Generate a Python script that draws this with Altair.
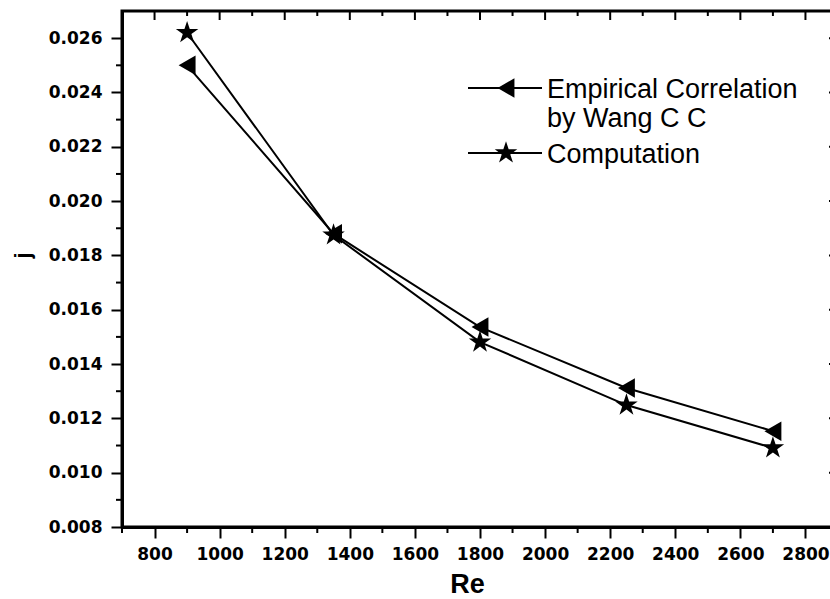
import altair as alt
import pandas as pd

# ---- data ----
re_vals = [900, 1350, 1800, 2250, 2700]
j_empirical = [0.0250, 0.0188, 0.01536, 0.01312, 0.01153]
j_computation = [0.0262, 0.01875, 0.01481, 0.01249, 0.01091]
series_names = ["Empirical Correlation by Wang C C", "Computation"]
x_major = [800, 1000, 1200, 1400, 1600, 1800, 2000, 2200, 2400, 2600, 2800]
x_minor = [700, 900, 1100, 1300, 1500, 1700, 1900, 2100, 2300, 2500, 2700, 2900]
y_major = [0.008, 0.010, 0.012, 0.014, 0.016, 0.018, 0.020, 0.022, 0.024, 0.026]
y_minor = [0.009, 0.011, 0.013, 0.015, 0.017, 0.019, 0.021, 0.023, 0.025]

STAR = ("M0,-1L0.225,-0.309L0.951,-0.309L0.363,0.118L0.588,0.809L0,0.382"
        "L-0.588,0.809L-0.363,0.118L-0.951,-0.309L-0.225,-0.309Z")
TRI_SIZE, STAR_SIZE = 380, 560

W, H = 716, 516
PL, PT = 122, 11

df = pd.DataFrame({
    "Re": re_vals * 2,
    "j": j_empirical + j_computation,
    "series": [series_names[0]] * len(re_vals) + [series_names[1]] * len(re_vals),
})
xmaj_df = pd.DataFrame({"Re": x_major})
xmin_df = pd.DataFrame({"Re": x_minor})
ymaj_df = pd.DataFrame({"j": y_major})
ymin_df = pd.DataFrame({"j": y_minor})
one = pd.DataFrame({"k": [0]})

xs = alt.Scale(domain=[700, 2900], nice=False, zero=False)
ys = alt.Scale(domain=[0.008, 0.027], nice=False, zero=False)

x_axis = alt.Axis(
    values=x_major, format="d", title="Re", titleX=345, titleY=65,
    titleAlign="center", titleBaseline="alphabetic", titleFont="Liberation Sans",
    titleFontSize=27, titleFontWeight="bold", labelPadding=8)
y_axis = alt.Axis(
    values=y_major, format=".3f", title="j", titleX=-93, titleY=244,
    titleAlign="center", titleBaseline="alphabetic", titleAngle=270,
    titleFont="Liberation Sans", titleFontSize=22, titleFontWeight="bold",
    labelPadding=9)

X = alt.X("Re:Q", scale=xs, axis=x_axis)
Y = alt.Y("j:Q", scale=ys, axis=y_axis)

lines = alt.Chart(df).mark_line(color="black", strokeWidth=2).encode(
    x=X, y=Y, detail="series:N",
)

points = alt.Chart(df).mark_point(filled=True, color="black", opacity=1).encode(
    x=X,
    y=Y,
    shape=alt.Shape("series:N", scale=alt.Scale(domain=series_names,
                                                 range=["triangle-left", STAR]), legend=None),
    size=alt.Size("series:N", scale=alt.Scale(domain=series_names,
                                               range=[TRI_SIZE, STAR_SIZE]), legend=None),
)

tick_style = dict(color="black", strokeWidth=2)
bottom_minor = alt.Chart(xmin_df).mark_rule(**tick_style).encode(
    x=X, y=alt.value(H), y2=alt.value(H + 6))
top_major = alt.Chart(xmaj_df).mark_rule(**tick_style).encode(
    x=X, y=alt.value(0), y2=alt.value(9))
top_minor = alt.Chart(xmin_df).mark_rule(**tick_style).encode(
    x=X, y=alt.value(0), y2=alt.value(5))
left_minor = alt.Chart(ymin_df).mark_rule(**tick_style).encode(
    y=Y, x=alt.value(0), x2=alt.value(-6))
right_major = alt.Chart(ymaj_df).mark_rule(**tick_style).encode(
    y=Y, x=alt.value(W), x2=alt.value(W - 9))
right_minor = alt.Chart(ymin_df).mark_rule(**tick_style).encode(
    y=Y, x=alt.value(W), x2=alt.value(W - 5))

# ---- hand-made legend (inside plot) ----
lx1, lx2, lsym, ltext = 468 - PL, 542 - PL, 506 - PL, 547 - PL
r1, r2, r3 = 88 - PT, 117 - PT, 153 - PT
leg_line1 = alt.Chart(one).mark_rule(color="black", strokeWidth=2).encode(
    x=alt.value(lx1), x2=alt.value(lx2), y=alt.value(r1))
leg_line2 = alt.Chart(one).mark_rule(color="black", strokeWidth=2).encode(
    x=alt.value(lx1), x2=alt.value(lx2), y=alt.value(r3))
leg_sym1 = alt.Chart(one).mark_point(filled=True, color="black", opacity=1, size=TRI_SIZE,
                                     shape="triangle-left").encode(
    x=alt.value(lsym), y=alt.value(r1))
leg_sym2 = alt.Chart(one).mark_point(filled=True, color="black", opacity=1, size=STAR_SIZE,
                                     shape=STAR).encode(
    x=alt.value(lsym), y=alt.value(r3))
txt = dict(font="Liberation Sans", fontSize=27, color="black", align="left",
           baseline="alphabetic")
leg_t1 = alt.Chart(one).mark_text(**txt).encode(
    x=alt.value(ltext), y=alt.value(r1 + 9.5), text=alt.value("Empirical Correlation"))
leg_t2 = alt.Chart(one).mark_text(**txt).encode(
    x=alt.value(ltext), y=alt.value(r2 + 9.5), text=alt.value("by Wang C C"))
leg_t3 = alt.Chart(one).mark_text(**txt).encode(
    x=alt.value(ltext), y=alt.value(r3 + 9.5), text=alt.value("Computation"))

chart = alt.layer(
    lines, points, bottom_minor, top_major, top_minor, left_minor, right_major, right_minor,
    leg_line1, leg_line2, leg_sym1, leg_sym2, leg_t1, leg_t2, leg_t3,
).properties(
    width=W, height=H,
    autosize=alt.AutoSizeParams(type="none"),
    padding={"left": PL, "top": PT, "right": -8, "bottom": 72},
    background="white",
).configure_view(
    stroke="black", strokeWidth=3,
).configure_axis(
    grid=False, domainColor="black", domainWidth=3, tickColor="black", tickWidth=2,
    tickSize=11, labelColor="black", labelFont="DejaVu Sans", labelFontWeight="bold",
    labelFontSize=17, titleColor="black",
)

chart.save("out.html", embed_options={"renderer": "svg", "actions": False})
